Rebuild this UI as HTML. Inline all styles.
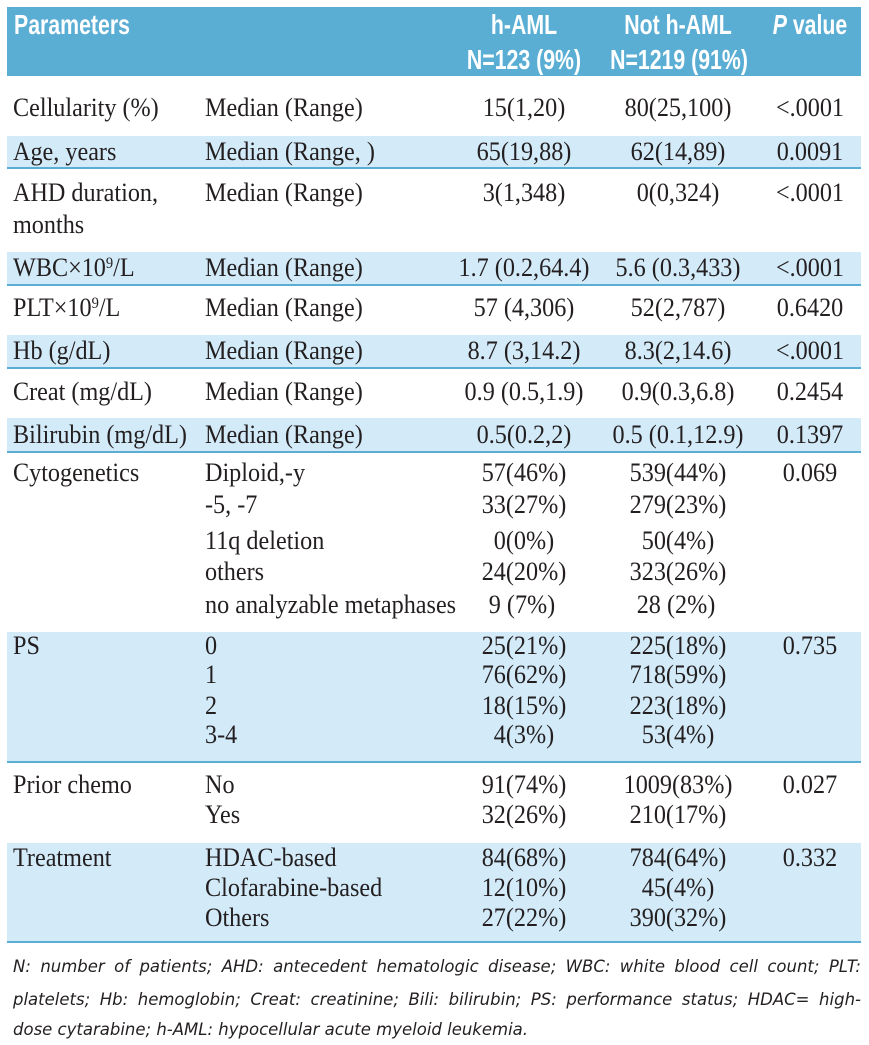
<!DOCTYPE html>
<html><head><meta charset="utf-8"><style>
body{margin:0;width:869px;height:1044px;background:#fff;position:relative;overflow:hidden;font-family:"Liberation Serif",serif;color:#231f20}
.b{position:absolute;left:7px;width:854px;background:#d3eaf8}
.ln{position:absolute;left:7px;width:854px;height:2px;background:#5aaed4}
.t{position:absolute;font-size:26px;line-height:30px;white-space:nowrap;transform-origin:0 50%;transform:scaleX(.93)}
.c{position:absolute;font-size:26px;line-height:30px;white-space:nowrap;transform:translateX(-50%) scaleX(.93)}
.h{position:absolute;font-family:"Liberation Sans",sans-serif;font-weight:bold;color:#fff;font-size:28px;line-height:30px;white-space:nowrap;transform:translateX(-50%) scaleX(.76)}
.fn{position:absolute;left:13px;width:848px;font-family:"DejaVu Sans",sans-serif;font-style:italic;font-size:16.5px;line-height:30px;text-align:justify;text-align-last:justify;color:#231f20}
sup{font-size:60%;vertical-align:8px;line-height:0}
</style></head><body>
<div style="position:absolute;left:7px;top:7px;width:854px;height:69px;background:#5aaed4"></div>
<div class="h" style="left:14px;top:10px;transform-origin:0 50%;transform:scaleX(.76)">Parameters</div>
<div class="h" style="left:524px;top:10px">h-AML</div>
<div class="h" style="left:524px;top:45px">N=123 (9%)</div>
<div class="h" style="left:678px;top:10px">Not h-AML</div>
<div class="h" style="left:679px;top:45px">N=1219 (91%)</div>
<div class="h" style="left:810px;top:10px"><i>P</i> value</div>

<div class="b" style="top:136px;height:32px"></div><div class="ln" style="top:167px"></div>
<div class="b" style="top:252px;height:33px"></div><div class="ln" style="top:284px"></div>
<div class="b" style="top:335px;height:33px"></div><div class="ln" style="top:367px"></div>
<div class="b" style="top:418px;height:34px"></div><div class="ln" style="top:451px"></div>
<div class="b" style="top:632px;height:130px"></div><div class="ln" style="top:761px"></div>
<div class="b" style="top:843px;height:99px"></div><div class="ln" style="top:941px"></div>

<div class="t" style="left:13px;top:93px">Cellularity (%)</div><div class="t" style="left:205px;top:93px">Median (Range)</div><div class="c" style="left:524px;top:93px">15(1,20)</div><div class="c" style="left:678px;top:93px">80(25,100)</div><div class="c" style="left:810px;top:93px">&lt;.0001</div>
<div class="t" style="left:13px;top:137px">Age, years</div><div class="t" style="left:205px;top:137px">Median (Range, )</div><div class="c" style="left:524px;top:137px">65(19,88)</div><div class="c" style="left:678px;top:137px">62(14,89)</div><div class="c" style="left:810px;top:137px">0.0091</div>
<div class="t" style="left:13px;top:178px">AHD duration,</div><div class="t" style="left:13px;top:210px">months</div><div class="t" style="left:205px;top:178px">Median (Range)</div><div class="c" style="left:524px;top:178px">3(1,348)</div><div class="c" style="left:678px;top:178px">0(0,324)</div><div class="c" style="left:810px;top:178px">&lt;.0001</div>
<div class="t" style="left:13px;top:253px">WBC×10<sup>9</sup>/L</div><div class="t" style="left:205px;top:253px">Median (Range)</div><div class="c" style="left:524px;top:253px">1.7 (0.2,64.4)</div><div class="c" style="left:678px;top:253px">5.6 (0.3,433)</div><div class="c" style="left:810px;top:253px">&lt;.0001</div>
<div class="t" style="left:13px;top:293px">PLT×10<sup>9</sup>/L</div><div class="t" style="left:205px;top:293px">Median (Range)</div><div class="c" style="left:524px;top:293px">57 (4,306)</div><div class="c" style="left:678px;top:293px">52(2,787)</div><div class="c" style="left:810px;top:293px">0.6420</div>
<div class="t" style="left:13px;top:336px">Hb (g/dL)</div><div class="t" style="left:205px;top:336px">Median (Range)</div><div class="c" style="left:524px;top:336px">8.7 (3,14.2)</div><div class="c" style="left:678px;top:336px">8.3(2,14.6)</div><div class="c" style="left:810px;top:336px">&lt;.0001</div>
<div class="t" style="left:13px;top:377px">Creat (mg/dL)</div><div class="t" style="left:205px;top:377px">Median (Range)</div><div class="c" style="left:524px;top:377px">0.9 (0.5,1.9)</div><div class="c" style="left:678px;top:377px">0.9(0.3,6.8)</div><div class="c" style="left:810px;top:377px">0.2454</div>
<div class="t" style="left:13px;top:420px">Bilirubin (mg/dL)</div><div class="t" style="left:205px;top:420px">Median (Range)</div><div class="c" style="left:524px;top:420px">0.5(0.2,2)</div><div class="c" style="left:678px;top:420px">0.5 (0.1,12.9)</div><div class="c" style="left:810px;top:420px">0.1397</div>

<div class="t" style="left:13px;top:458px">Cytogenetics</div><div class="c" style="left:810px;top:458px">0.069</div>
<div class="t" style="left:205px;top:458px">Diploid,-y</div><div class="c" style="left:524px;top:458px">57(46%)</div><div class="c" style="left:678px;top:458px">539(44%)</div>
<div class="t" style="left:205px;top:490px">-5, -7</div><div class="c" style="left:524px;top:490px">33(27%)</div><div class="c" style="left:678px;top:490px">279(23%)</div>
<div class="t" style="left:205px;top:526px">11q deletion</div><div class="c" style="left:524px;top:526px">0(0%)</div><div class="c" style="left:678px;top:526px">50(4%)</div>
<div class="t" style="left:205px;top:557px">others</div><div class="c" style="left:524px;top:557px">24(20%)</div><div class="c" style="left:678px;top:557px">323(26%)</div>
<div class="t" style="left:205px;top:590px">no analyzable metaphases</div><div class="c" style="left:522px;top:590px">9 (7%)</div><div class="c" style="left:676px;top:590px">28 (2%)</div>

<div class="t" style="left:13px;top:631px">PS</div><div class="c" style="left:810px;top:631px">0.735</div>
<div class="t" style="left:205px;top:631px">0</div><div class="c" style="left:524px;top:631px">25(21%)</div><div class="c" style="left:678px;top:631px">225(18%)</div>
<div class="t" style="left:205px;top:660px">1</div><div class="c" style="left:524px;top:660px">76(62%)</div><div class="c" style="left:678px;top:660px">718(59%)</div>
<div class="t" style="left:205px;top:691px">2</div><div class="c" style="left:524px;top:691px">18(15%)</div><div class="c" style="left:678px;top:691px">223(18%)</div>
<div class="t" style="left:205px;top:720px">3-4</div><div class="c" style="left:524px;top:720px">4(3%)</div><div class="c" style="left:678px;top:720px">53(4%)</div>

<div class="t" style="left:13px;top:770px">Prior chemo</div><div class="c" style="left:810px;top:770px">0.027</div>
<div class="t" style="left:205px;top:770px">No</div><div class="c" style="left:524px;top:770px">91(74%)</div><div class="c" style="left:678px;top:770px">1009(83%)</div>
<div class="t" style="left:205px;top:800px">Yes</div><div class="c" style="left:524px;top:800px">32(26%)</div><div class="c" style="left:678px;top:800px">210(17%)</div>

<div class="t" style="left:13px;top:843px">Treatment</div><div class="c" style="left:810px;top:843px">0.332</div>
<div class="t" style="left:205px;top:843px">HDAC-based</div><div class="c" style="left:524px;top:843px">84(68%)</div><div class="c" style="left:678px;top:843px">784(64%)</div>
<div class="t" style="left:205px;top:873px">Clofarabine-based</div><div class="c" style="left:524px;top:873px">12(10%)</div><div class="c" style="left:678px;top:873px">45(4%)</div>
<div class="t" style="left:205px;top:903px">Others</div><div class="c" style="left:524px;top:903px">27(22%)</div><div class="c" style="left:678px;top:903px">390(32%)</div>

<div class="fn" style="top:952px">N: number of patients; AHD: antecedent hematologic disease; WBC: white blood cell count; PLT:</div>
<div class="fn" style="top:985px">platelets; Hb: hemoglobin; Creat: creatinine; Bili: bilirubin; PS: performance status; HDAC= high-</div>
<div class="fn" style="top:1015px;text-align-last:left;white-space:nowrap">dose cytarabine; h-AML: hypocellular acute myeloid leukemia.</div>
</body></html>
